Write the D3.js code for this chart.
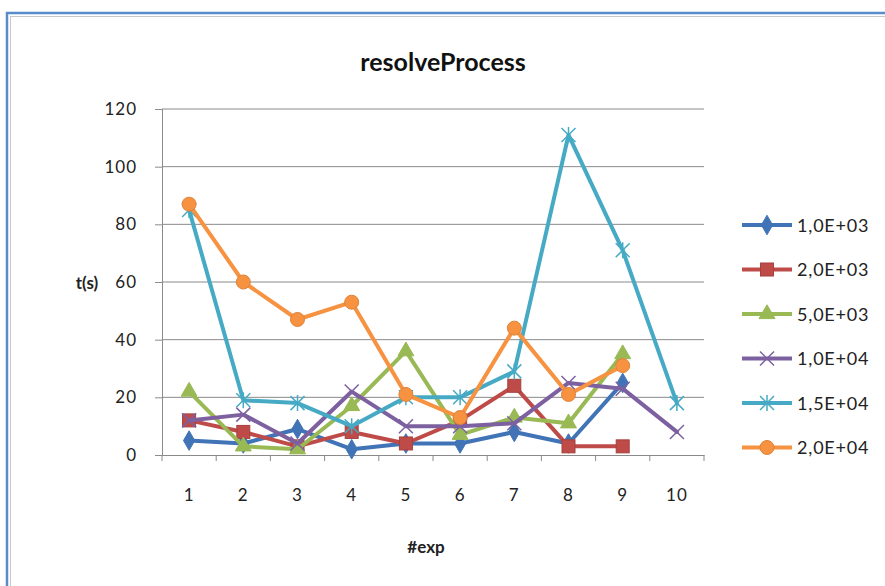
<!DOCTYPE html>
<html>
<head>
<meta charset="utf-8">
<script src="https://cdn.jsdelivr.net/npm/d3@7"></script>
<style>
  html, body { margin: 0; padding: 0; background: #fff; }
  svg { display: block; font-family: Lato, "Open Sans", sans-serif; }
</style>
</head>
<body>
<svg id="chart" width="885" height="586"></svg>
<script>
// Experiment runs and timing series
const experiments = [1, 2, 3, 4, 5, 6, 7, 8, 9, 10];
const seriesNames = ["1,0E+03", "2,0E+03", "5,0E+03", "1,0E+04", "1,5E+04", "2,0E+04"];
const s1000  = [5, 4, 9, 2, 4, 4, 8, 4, 25];
const s2000  = [12, 8, 3, 8, 4, 12, 24, 3, 3];
const s5000  = [22, 3, 2, 17, 36, 7, 13, 11, 35];
const s10000 = [12, 14, 4, 22, 10, 10, 11, 25, 23, 8];
const s15000 = [85, 19, 18, 10, 20, 20, 29, 111, 71, 18];
const s20000 = [87, 60, 47, 53, 21, 13, 44, 21, 31];
const yTicks = [0, 20, 40, 60, 80, 100, 120];

const seriesValues = [s1000, s2000, s5000, s10000, s15000, s20000];
const colors = ["#4174b6", "#be4b48", "#98b954", "#7d60a0", "#46aac5", "#f69240"];
const markers = ["diamond", "square", "triangle", "cross", "star", "circle"];

const svg = d3.select("#chart");

// Outer frame
svg.append("rect").attr("x", 7).attr("y", 13).attr("width", 900).attr("height", 600)
  .attr("fill", "#fff").attr("stroke", "#5a8ccb").attr("stroke-width", 2.5);
svg.append("rect").attr("x", 10.5).attr("y", 16.5).attr("width", 900).attr("height", 600)
  .attr("fill", "none").attr("stroke", "#c8c8c8").attr("stroke-width", 1);

const plot = { left: 162, right: 704, top: 109, bottom: 455 };

const x = d3.scaleBand().domain(experiments).range([plot.left, plot.right]);
const y = d3.scaleLinear().domain([0, 120]).range([plot.bottom, plot.top]);

// Title
svg.append("text").attr("x", 443).attr("y", 71).attr("text-anchor", "middle")
  .attr("font-size", 25).attr("font-weight", "bold").attr("fill", "#111")
  .text("resolveProcess");

// Horizontal gridlines
svg.append("g").selectAll("line").data(yTicks.filter(d => d > 0)).join("line")
  .attr("x1", plot.left).attr("x2", plot.right)
  .attr("y1", d => y(d)).attr("y2", d => y(d))
  .attr("stroke", "#8a8a8a").attr("stroke-width", 1);

// Y axis
const yAxis = svg.append("g").attr("transform", `translate(${plot.left},0)`)
  .call(d3.axisLeft(y).tickValues(yTicks).tickSize(7).tickPadding(18));
yAxis.select(".domain").attr("stroke", "#8a8a8a");
yAxis.selectAll(".tick line").attr("stroke", "#8a8a8a");
yAxis.selectAll("text").attr("font-size", 17).attr("fill", "#222")
  .attr("letter-spacing", 1).attr("font-family", "Lato, 'Open Sans', sans-serif");

// X axis with ticks at category boundaries
const xAxis = svg.append("g").attr("transform", `translate(0,${plot.bottom})`)
  .call(d3.axisBottom(x).tickSize(0).tickPadding(34));
xAxis.select(".domain").attr("stroke", "#8a8a8a");
xAxis.selectAll("text").attr("font-size", 17).attr("fill", "#222")
  .attr("letter-spacing", 1).attr("font-family", "Lato, 'Open Sans', sans-serif");
const bounds = experiments.map(d => x(d)).concat([x(experiments[experiments.length - 1]) + x.bandwidth()]);
xAxis.selectAll("line.bound").data(bounds).join("line").attr("class", "bound")
  .attr("x1", d => d).attr("x2", d => d).attr("y1", 0).attr("y2", 6)
  .attr("stroke", "#8a8a8a");

// Axis titles
svg.append("text").attr("x", 426).attr("y", 553).attr("text-anchor", "middle")
  .attr("font-size", 17).attr("font-weight", "bold").attr("fill", "#222").text("#exp");
svg.append("text").attr("x", 87).attr("y", 289).attr("text-anchor", "middle")
  .attr("font-size", 17).attr("font-weight", "bold").attr("fill", "#222").text("t(s)");

function drawMarker(g, type, color, cx, cy) {
  if (type === "diamond") {
    g.append("path").attr("d", d3.symbol(d3.symbolDiamond, 110)())
      .attr("transform", `translate(${cx},${cy})`).attr("fill", color).attr("stroke", color);
  } else if (type === "square") {
    g.append("rect").attr("x", cx - 6.5).attr("y", cy - 6.5).attr("width", 13).attr("height", 13)
      .attr("fill", color).attr("stroke", d3.color(color).darker(0.4));
  } else if (type === "triangle") {
    g.append("path").attr("d", d3.symbol(d3.symbolTriangle, 110)())
      .attr("transform", `translate(${cx},${cy})`).attr("fill", color).attr("stroke", color);
  } else if (type === "cross") {
    const r = 7;
    g.append("path").attr("d", `M${cx - r},${cy - r}L${cx + r},${cy + r}M${cx - r},${cy + r}L${cx + r},${cy - r}`)
      .attr("stroke", color).attr("stroke-width", 1.5).attr("fill", "none");
  } else if (type === "star") {
    const r = 7;
    g.append("path").attr("d", `M${cx - r},${cy - r}L${cx + r},${cy + r}M${cx - r},${cy + r}L${cx + r},${cy - r}M${cx},${cy - r - 1}L${cx},${cy + r + 1}`)
      .attr("stroke", color).attr("stroke-width", 1.5).attr("fill", "none");
  } else if (type === "circle") {
    g.append("circle").attr("cx", cx).attr("cy", cy).attr("r", 7)
      .attr("fill", color).attr("stroke", d3.color(color).darker(0.3));
  }
}

const line = d3.line()
  .x((d, i) => x(experiments[i]) + x.bandwidth() / 2)
  .y(d => y(d));

// Series lines and markers
seriesValues.forEach((vals, k) => {
  const g = svg.append("g");
  g.append("path").datum(vals).attr("d", line)
    .attr("fill", "none").attr("stroke", colors[k]).attr("stroke-width", 4)
    .attr("stroke-linejoin", "round").attr("stroke-linecap", "round");
  vals.forEach((v, i) => {
    drawMarker(g, markers[k], colors[k], x(experiments[i]) + x.bandwidth() / 2, y(v));
  });
});

// Legend
const legend = svg.append("g");
seriesNames.forEach((name, k) => {
  const ly = 225 + k * 44.5;
  legend.append("line").attr("x1", 742).attr("x2", 792).attr("y1", ly).attr("y2", ly)
    .attr("stroke", colors[k]).attr("stroke-width", 4);
  drawMarker(legend, markers[k], colors[k], 767, ly);
  legend.append("text").attr("x", 797).attr("y", ly + 6.5)
    .attr("font-size", 18).attr("letter-spacing", 0.8).attr("fill", "#222").text(name);
});
</script>
</body>
</html>
